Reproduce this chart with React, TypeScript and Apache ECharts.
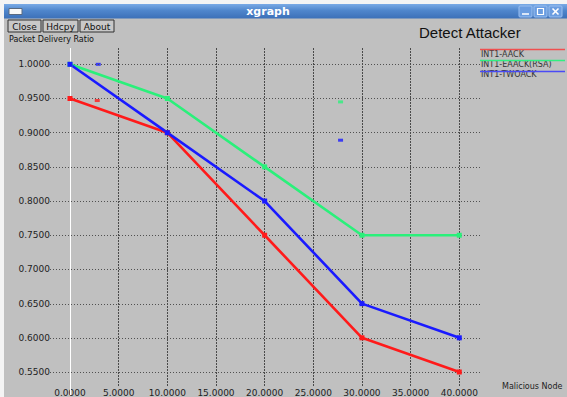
import React, { useEffect, useRef } from "react";
import * as echarts from "echarts";

// ---- data ----
const xValues = [0, 10, 20, 30, 40];
const seriesNames = ["INT1-AACK", "INT1-EAACK(RSA)", "INT1-TWOACK"];
const aack = [0.95, 0.9, 0.75, 0.6, 0.55];
const eaack = [1.0, 0.95, 0.85, 0.75, 0.75];
const twoack = [1.0, 0.9, 0.8, 0.65, 0.6];
const xTicks = [0, 5, 10, 15, 20, 25, 30, 35, 40];
const yTicks = [0.55, 0.6, 0.65, 0.7, 0.75, 0.8, 0.85, 0.9, 0.95, 1.0];
// stray marker glyphs seen in the plot
const strayRed = [[2.8, 0.947]];
const strayBlue = [[2.9, 1.0], [27.8, 0.889]];
const strayGreen = [[27.8, 0.945]];

const colors = ["#ff1a1a", "#2af07a", "#1a1aff"];
const legendColors = ["#f05050", "#30f080", "#4a4af5"];

export default function App() {
  const ref = useRef<HTMLDivElement>(null);
  useEffect(() => {
    if (!ref.current) return;
    const chart = echarts.init(ref.current, null, { renderer: "svg" });

    // layout in pixels
    const x0 = 70, x40 = 459.3, y100 = 64.3, y55 = 372.3;
    const kx = (x40 - x0) / 40;
    const ky = (y55 - y100) / 0.45;
    const gbLeft = 50, gbRight = 480, gbTop = 48, gbBottom = 395;
    const bxMin = -(x0 - gbLeft) / kx;
    const bxMax = 40 + (gbRight - x40) / kx;
    const byMax = 1.0 + (y100 - gbTop) / ky;
    const byMin = 0.55 - (gbBottom - y55) / ky;
    const vBottom = 0.55 - (386 - y55) / ky;

    const font = "DejaVu Sans";
    const lineSeries = [aack, eaack, twoack].map((vals, i) => ({
      name: seriesNames[i],
      type: "line",
      xAxisIndex: 0,
      yAxisIndex: 0,
      data: xValues.map((x, j) => [x, vals[j]]),
      symbol: "rect",
      symbolSize: 5,
      clip: false,
      lineStyle: { color: colors[i], width: 2.6 },
      itemStyle: { color: colors[i] },
      z: 5,
    }));

    const stray = [
      { d: strayRed, c: colors[0] },
      { d: strayGreen, c: colors[1] },
      { d: strayBlue, c: colors[2] },
    ].map((s) => ({
      type: "scatter",
      xAxisIndex: 0,
      yAxisIndex: 0,
      data: s.d,
      symbol: "rect",
      symbolSize: [5, 3],
      clip: false,
      itemStyle: { color: s.c },
      z: 4,
    }));

    const gridLineSeries = {
      type: "line",
      xAxisIndex: 1,
      yAxisIndex: 1,
      data: [[bxMin, byMin]],
      showSymbol: false,
      lineStyle: { opacity: 0 },
      silent: true,
      z: 1,
      markLine: {
        silent: true,
        symbol: ["none", "none"],
        label: { show: false },
        emphasis: { disabled: true },
        data: [
          ...yTicks.map((v) => ({
            yAxis: v,
            lineStyle: { color: "#505050", type: [1, 2], width: 1 },
          })),
          ...xTicks
            .filter((v) => v !== 0)
            .map((v) => [
              { coord: [v, byMax], lineStyle: { color: "#4a4a4a", type: [2, 1], width: 1 } },
              { coord: [v, vBottom] },
            ]),
          [
            { coord: [0, byMax], lineStyle: { color: "#ffffff", type: "solid", width: 1 } },
            { coord: [0, byMin] },
          ],
        ],
      },
    };

    const btn = (x: number, w: number, label: string) => [
      {
        type: "rect",
        shape: { x, y: 20, width: w, height: 12 },
        style: { fill: "#c8c8c8", stroke: "#303030", lineWidth: 1 },
      },
      {
        type: "text",
        x: x + w / 2,
        y: 26.5,
        style: { text: label, font: `9px ${font}`, fill: "#111", textAlign: "center", textVerticalAlign: "middle" },
      },
    ];

    const winBtn = (x: number) => ({
      type: "rect",
      shape: { x, y: 6, width: 13, height: 11, r: 1 },
      style: { fill: "#6b9de0", stroke: "#9cc0f0", lineWidth: 1 },
    });

    const legend = seriesNames.flatMap((n, i) => [
      {
        type: "line",
        z: 10,
        shape: { x1: 480, y1: 49.5 + i * 11, x2: 565, y2: 49.5 + i * 11 },
        style: { stroke: legendColors[i], lineWidth: 1.3 },
      },
      {
        type: "text",
        x: 481,
        y: 54 + i * 10.2,
        style: { text: n, font: `8px ${font}`, fill: "#333", textAlign: "left", textVerticalAlign: "middle" },
      },
    ]);

    chart.setOption({
      animation: false,
      backgroundColor: "#c0c0c0",
      grid: [
        { left: x0, top: y100, width: x40 - x0, height: y55 - y100, containLabel: false },
        { left: gbLeft, top: gbTop, width: gbRight - gbLeft, height: gbBottom - gbTop, containLabel: false },
      ],
      xAxis: [
        {
          type: "value",
          gridIndex: 0,
          min: 0,
          max: 40,
          interval: 5,
          axisLine: { show: false },
          axisTick: { show: false },
          splitLine: { show: false },
          axisLabel: {
            margin: 16,
            fontSize: 9,
            fontFamily: font,
            color: "#222",
            formatter: (v: number) => v.toFixed(4),
          },
        },
        {
          type: "value",
          gridIndex: 1,
          min: bxMin,
          max: bxMax,
          show: false,
        },
      ],
      yAxis: [
        {
          type: "value",
          gridIndex: 0,
          min: 0.55,
          max: 1.0,
          interval: 0.05,
          axisLine: { show: false },
          axisTick: { show: false },
          splitLine: { show: false },
          axisLabel: {
            margin: 20,
            fontSize: 9,
            fontFamily: font,
            color: "#222",
            formatter: (v: number) => v.toFixed(4),
          },
        },
        {
          type: "value",
          gridIndex: 1,
          min: byMin,
          max: byMax,
          show: false,
        },
      ],
      series: [gridLineSeries, ...stray, ...lineSeries],
      graphic: [
        { type: "rect", shape: { x: 0, y: 0, width: 567, height: 4 }, style: { fill: "#f4f4f4" } },
        { type: "rect", shape: { x: 0, y: 0, width: 4, height: 397 }, style: { fill: "#f4f4f4" } },
        {
          type: "rect",
          shape: { x: 4, y: 4, width: 563, height: 14.5 },
          style: {
            fill: new echarts.graphic.LinearGradient(0, 0, 0, 1, [
              { offset: 0, color: "#7aaae6" },
              { offset: 0.45, color: "#4f86cc" },
              { offset: 1, color: "#3c70b8" },
            ]),
          },
        },
        {
          type: "rect",
          shape: { x: 9, y: 8.5, width: 13, height: 6 },
          style: { fill: "#f8f8f8", stroke: "#5a6a80", lineWidth: 1 },
        },
        {
          type: "text",
          x: 268,
          y: 11.5,
          style: { text: "xgraph", font: `bold 11px ${font}`, fill: "#ffffff", textAlign: "center", textVerticalAlign: "middle" },
        },
        winBtn(519),
        winBtn(534),
        winBtn(549),
        { type: "line", shape: { x1: 522, y1: 14, x2: 529, y2: 14 }, style: { stroke: "#fff", lineWidth: 1.5 } },
        { type: "rect", shape: { x: 537.5, y: 8.5, width: 6, height: 6 }, style: { fill: "none", stroke: "#fff", lineWidth: 1.2 } },
        { type: "line", shape: { x1: 552.5, y1: 8.5, x2: 558.5, y2: 14.5 }, style: { stroke: "#fff", lineWidth: 1.6 } },
        { type: "line", shape: { x1: 558.5, y1: 8.5, x2: 552.5, y2: 14.5 }, style: { stroke: "#fff", lineWidth: 1.6 } },
        ...btn(8, 33, "Close"),
        ...btn(43, 35, "Hdcpy"),
        ...btn(80, 34, "About"),
        {
          type: "text",
          x: 9,
          y: 39.5,
          style: { text: "Packet Delivery Ratio", font: `8px ${font}`, fill: "#111", textAlign: "left", textVerticalAlign: "middle" },
        },
        {
          type: "text",
          x: 419,
          y: 32,
          style: { text: "Detect Attacker", font: `15px "Liberation Sans"`, fill: "#111", textAlign: "left", textVerticalAlign: "middle" },
        },
        {
          type: "text",
          x: 502,
          y: 386.5,
          style: { text: "Malicious Node", font: `8px ${font}`, fill: "#222", textAlign: "left", textVerticalAlign: "middle" },
        },
        ...legend,
      ],
    });
    return () => chart.dispose();
  }, []);
  return (
    <div
      ref={ref}
      style={{ position: "absolute", left: 0, top: 0, width: 567, height: 397 }}
    />
  );
}
